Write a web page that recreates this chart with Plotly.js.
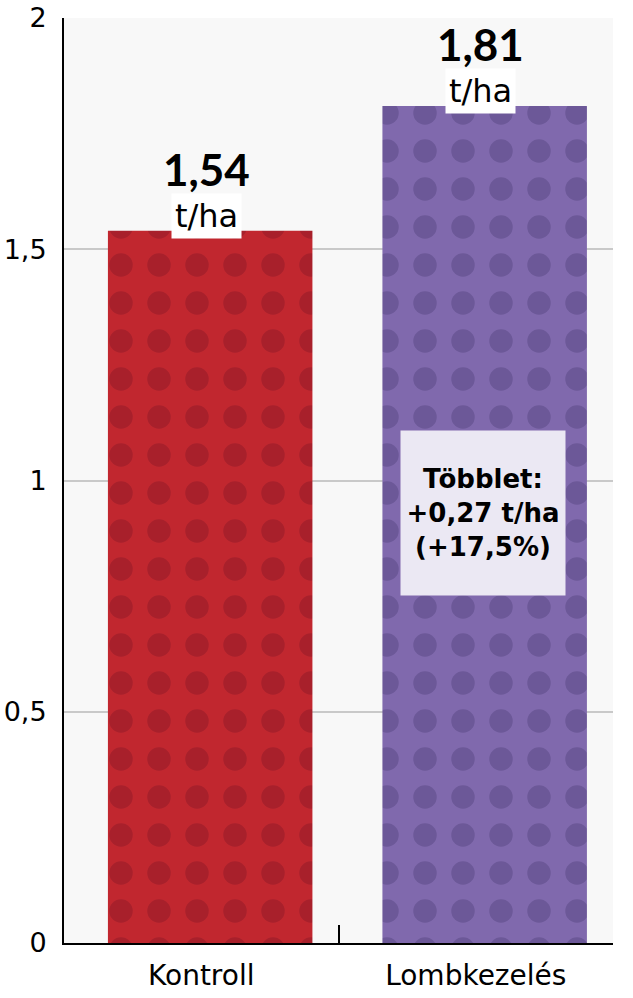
<!DOCTYPE html>
<html>
<head>
<meta charset="utf-8">
<script src="https://cdn.plot.ly/plotly-3.0.1.min.js"></script>
<style>html,body{margin:0;padding:0;background:#fff;}#chart{width:633px;height:998px;}</style>
</head>
<body>
<div id="chart"></div>
<script>
const categories = ["Kontroll", "Lombkezelés"];
const values = [1.54, 1.81];
const valueLabels = ["1,54", "1,81"];
const unitLabel = "t/ha";
const barColors = ["#c1272f", "#8069ad"];
const dotColors = ["#a8202b", "#6c5898"];
const yTicks = [0, 0.5, 1, 1.5, 2];
const yTickText = ["0", "0,5", "1", "1,5", "2"];
const diffText = "Többlet:<br>+0,27 t/ha<br>(+17,5%)";
const diffY = 0.93;

const FONT = "'DejaVu Sans', sans-serif";
const NUMFONT = "Lato, 'DejaVu Sans', sans-serif";

const traces = categories.map((c, i) => ({
  type: "bar",
  x: [c],
  y: [values[i]],
  width: 0.745,
  offset: -0.34,
  marker: {
    color: barColors[i],
    line: {width: 0},
    pattern: {shape: ".", fgcolor: dotColors[i], bgcolor: barColors[i], fgopacity: 1, size: 38, solidity: 0.3, fillmode: "replace"}
  },
  hoverinfo: "none"
}));

const annotations = [];
categories.forEach((c, i) => {
  annotations.push({x: c, y: values[i], xref: "x", yref: "y", text: "<b>" + valueLabels[i] + "</b>",
    showarrow: false, yshift: 62, xshift: 5, font: {family: NUMFONT, size: 44, color: "#000"}});
  annotations.push({x: c, y: values[i], xref: "x", yref: "y", text: unitLabel,
    showarrow: false, yshift: 15, xshift: 5, bgcolor: "#ffffff", borderpad: 3, font: {family: FONT, size: 32, color: "#000"}});
});
annotations.push({x: categories[1], y: diffY, xref: "x", yref: "y", text: "<b>" + diffText + "</b>",
  showarrow: false, bgcolor: "#ebe8f3", width: 150, height: 150, borderpad: 7, align: "center", xshift: 7,
  font: {family: FONT, size: 26, color: "#000"}});

const layout = {
  width: 633, height: 998,
  margin: {l: 64, r: 20, t: 18, b: 55},
  paper_bgcolor: "#ffffff",
  plot_bgcolor: "#f8f8f8",
  separators: ",.",
  showlegend: false,
  barmode: "overlay",
  font: {family: FONT, color: "#000"},
  xaxis: {
    type: "category",
    showline: true, linecolor: "#000", linewidth: 2,
    ticks: "inside", tickson: "boundaries", ticklen: 18, tickwidth: 2, tickcolor: "#000",
    ticklabelstandoff: 6,
    tickfont: {family: FONT, size: 28, color: "#000"},
    showgrid: false, zeroline: false
  },
  yaxis: {
    range: [0, 2],
    tickvals: yTicks, ticktext: yTickText,
    showline: true, linecolor: "#000", linewidth: 2,
    ticks: "", ticklabelstandoff: 10,
    tickfont: {family: FONT, size: 27, color: "#000"},
    showgrid: true, gridcolor: "#c9c9c9", gridwidth: 2,
    zeroline: false
  },
  annotations: annotations
};

Plotly.newPlot("chart", traces, layout, {displayModeBar: false, staticPlot: true});
</script>
</body>
</html>
